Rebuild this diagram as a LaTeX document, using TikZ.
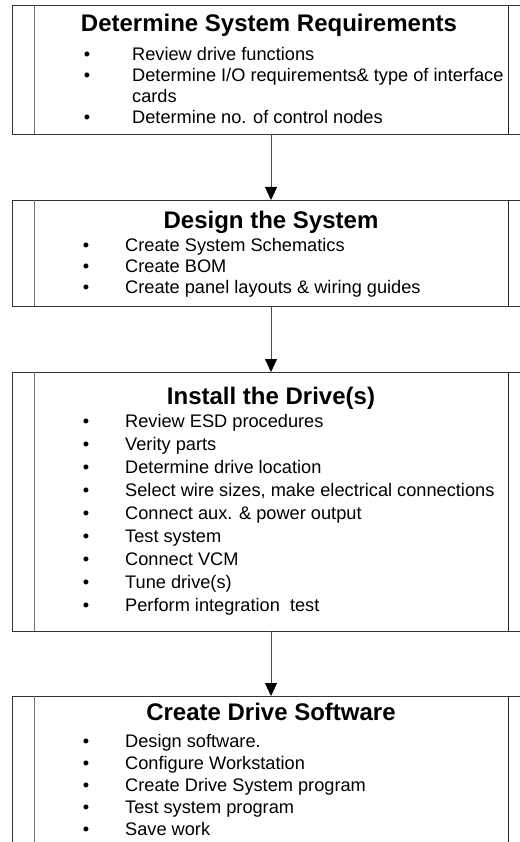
\documentclass[tikz,border=0pt]{standalone}
\usepackage{fontspec}
\setmainfont{Liberation Sans}
\usetikzlibrary{arrows.meta,calc}
\begin{document}
\begin{tikzpicture}[x=1pt,y=-1pt,
  frame/.style={draw=black!80,line width=0.8pt,rectangle,inner sep=0pt,outer sep=0pt,minimum width=518pt},
  sidebar/.style={draw=black!55,line width=0.8pt},
  heading/.style={font=\fontsize{24}{28}\selectfont\bfseries,anchor=base,inner sep=0pt},
  itm/.style={font=\fontsize{18.2}{21}\selectfont,anchor=base west,inner sep=0pt},
  bul/.style={font=\fontsize{18.2}{21}\selectfont,anchor=base,inner sep=0pt},
  flow/.style={draw=black!70,line width=0.8pt,-{Triangle[length=13pt,width=12pt,color=black]}}]
\useasboundingbox (0,0) rectangle (519,842);

% process boxes (outer frame reaches past the right page edge)
\node[frame,minimum height=129pt] (box1) at (271,69.5) {};
\node[frame,minimum height=106pt] (box2) at (271,253) {};
\node[frame,minimum height=259pt] (box3) at (271,501.5) {};
\node[frame,minimum height=184pt] (box4) at (271,788) {};

% inner side bars of the predefined-process shape
\foreach \b in {box1,box2,box3,box4}{
  \draw[sidebar] ($(\b.north west)+(22,0)$) -- ($(\b.south west)+(22,0)$);
  \draw[sidebar,draw=black!85] ($(\b.north east)+(-22,0)$) -- ($(\b.south east)+(-22,0)$);
}

% box 1
\node[heading] (h1) at (269,32) {Determine System Requirements};
\node[bul] (b1-1) at (87,61) {\textbullet};
\node[itm] (t1-1) at (132,61) {Review drive functions};
\node[bul] (b1-2) at (87,82) {\textbullet};
\node[itm] (t1-2) at (132,82) {Determine I/O requirements\& type of interface};
\node[itm] (t1-2b) at (132,103) {cards};
\node[bul] (b1-3) at (87,124) {\textbullet};
\node[itm] (t1-3) at (132,124) {Determine no. of control nodes};

% box 2
\node[heading] (h2) at (271,229) {Design the System};
\foreach \txt [count=\k] in {Create System Schematics, Create BOM, Create panel layouts \& wiring guides}{
  \node[bul] (b2-\k) at (86,{251+21*(\k-1)}) {\textbullet};
  \node[itm] (t2-\k) at (125,{251+21*(\k-1)}) {\txt};
}

% box 3
\node[heading] (h3) at (271,404) {Install the Drive(s)};
\foreach \txt [count=\k] in {Review ESD procedures, Verity parts, Determine drive location,
  {Select wire sizes, make electrical connections}, Connect aux. \& power output,
  Test system, Connect VCM, Tune drive(s), Perform integration\ \ test}{
  \node[bul] (b3-\k) at (86,{427+23*(\k-1)}) {\textbullet};
  \node[itm] (t3-\k) at (125,{427+23*(\k-1)}) {\txt};
}

% box 4
\node[heading] (h4) at (271,720) {Create Drive Software};
\foreach \txt [count=\k] in {Design software., Configure Workstation, Create Drive System program,
  Test system program, Save work}{
  \node[bul] (b4-\k) at (86,{747+22*(\k-1)}) {\textbullet};
  \node[itm] (t4-\k) at (125,{747+22*(\k-1)}) {\txt};
}

% flow arrows
\draw[flow] (box1.south) -- (box2.north);
\draw[flow] (box2.south) -- (box3.north);
\draw[flow] (box3.south) -- (box4.north);
\end{tikzpicture}
\end{document}
